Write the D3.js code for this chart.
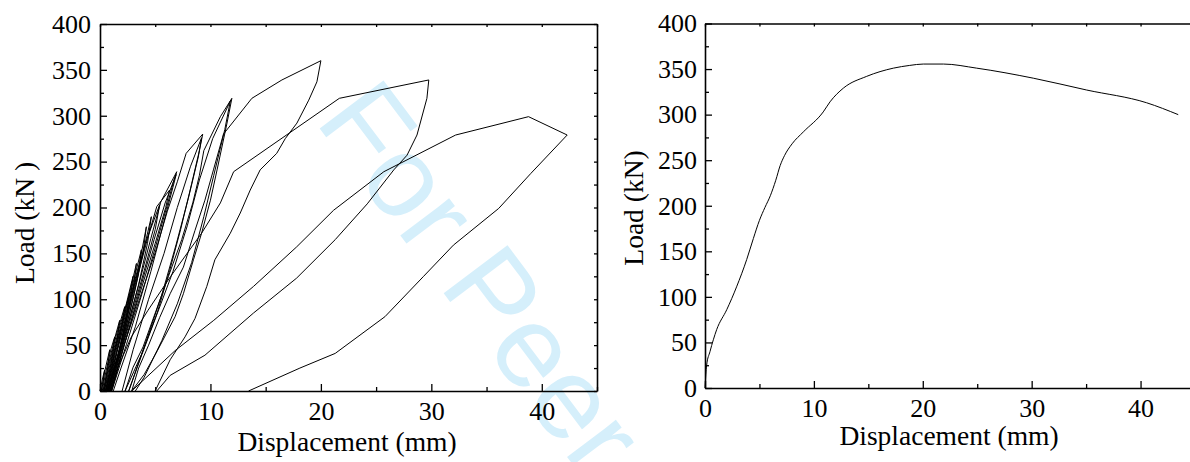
<!DOCTYPE html>
<html>
<head>
<meta charset="utf-8">
<script src="https://cdn.jsdelivr.net/npm/d3@7"></script>
<style>
    body { margin: 0; background: #fff; }
    svg { display: block; }
    .frame path.domain { stroke: #000; stroke-width: 1.6; }
    .frame line { stroke: #000; stroke-width: 1.3; }
    .curve { fill: none; stroke: #000; stroke-width: 1; stroke-linejoin: round; }
</style>
</head>
<body>
<svg width="1190" height="462"></svg>
<script>
'use strict';

// tick labels
var xTickValues = [0, 10, 20, 30, 40];
var xMinorTicks = [5, 15, 25, 35, 45];
var yTickValues = [0, 50, 100, 150, 200, 250, 300, 350, 400];
var yMinorTicks = [25, 75, 125, 175, 225, 275, 325, 375];

var xTitle = 'Displacement (mm)';
var yTitleCyclic = 'Load (kN )';
var yTitleMonotonic = 'Load (kN)';
var watermark = 'For Peer Review';

// cyclic test, [displacement mm, load kN] - loading branch then unloading branch
var cycle01 = [[0, 0], [0.2, 12], [0.42, 23], [0.3, 10], [0.12, 0]];
var cycle02 = [[0.1, 0], [0.4, 20], [0.88, 45], [0.7, 26], [0.45, 9], [0.25, 0]];
var cycle03 = [[0.2, 0], [0.55, 22], [1.0, 46], [1.33, 59], [1.15, 40], [0.8, 18], [0.35, 0]];
var cycle04 = [[0.3, 0], [0.75, 28], [1.3, 56], [1.78, 77], [1.55, 56], [1.1, 27], [0.45, 0]];
var cycle05 = [[0.35, 0], [0.85, 30], [1.5, 62], [2.24, 92], [2.0, 71], [1.4, 36], [0.5, 0]];
var cycle06 = [[0.4, 0], [0.95, 32], [1.8, 71], [2.69, 106], [2.4, 82], [1.7, 42], [0.6, 0]];
var cycle07 = [[0.5, 0], [1.1, 36], [2.0, 76], [2.99, 125], [2.7, 96], [2.0, 56], [1.2, 20], [0.65, 0]];
var cycle08 = [[0.55, 0], [1.2, 38], [2.2, 82], [3.3, 139], [3.0, 111], [2.3, 70], [1.4, 28], [0.7, 0]];
var cycle09 = [[0.6, 0], [1.3, 41], [2.4, 90], [3.75, 154], [3.45, 126], [2.7, 86], [1.6, 36], [0.75, 0]];
var cycle10 = [[0.65, 0], [1.4, 42], [2.6, 96], [3.6, 141], [4.2, 179], [3.9, 151], [3.1, 106], [2.0, 51], [0.8, 0]];
var cycle11 = [[0.7, 0], [1.5, 43], [2.8, 101], [3.9, 151], [4.65, 190], [4.3, 161], [3.5, 116], [2.3, 61], [0.85, 0]];
var cycle12 = [[0.75, 0], [1.6, 45], [3.0, 111], [4.1, 161], [5.4, 203], [5.0, 176], [4.0, 131], [2.7, 76], [0.9, 0]];
var cycle13 = [[0.8, 0], [1.75, 46], [3.2, 116], [4.3, 166], [5.14, 201], [6.3, 219], [5.95, 200], [5.0, 161], [3.6, 106], [2.2, 51], [0.95, 0]];
var cycle14 = [[0.9, 0], [1.9, 46], [3.4, 111], [4.6, 166], [5.5, 206], [6.95, 239], [6.65, 228], [6.05, 201], [5.0, 156], [3.8, 106], [2.4, 51], [1.06, 0]];
var cycle15 = [[1.06, 0], [2.2, 50], [3.6, 110], [4.9, 165], [5.9, 205], [6.9, 236], [6.6, 222], [5.8, 185], [4.6, 130], [3.2, 70], [1.9, 25], [1.2, 0]];
var cycle16 = [[1.0, 0], [2.2, 51], [3.6, 101], [5.0, 151], [6.1, 196], [7.0, 228], [7.8, 259], [9.3, 280],
    [9.0, 262], [8.3, 226], [7.3, 176], [6.3, 131], [5.2, 86], [3.8, 41], [2.27, 0]];
var cycle17 = [[2.0, 0], [3.0, 45], [4.4, 100], [5.8, 150], [7.0, 200], [8.2, 245], [9.2, 276],
    [8.9, 255], [8.0, 210], [6.9, 160], [5.6, 105], [4.2, 55], [2.6, 0]];
var cycle18 = [[2.27, 0], [3.0, 26], [3.9, 48], [5.0, 85], [6.2, 125], [7.4, 165], [8.4, 205], [9.0, 235], [9.4, 262], [10.9, 299], [11.94, 319],
    [11.5, 292], [10.6, 241], [10.0, 208], [9.2, 172], [8.46, 143], [7.55, 106], [6.8, 81], [5.2, 44], [4.0, 18], [2.87, 0]];
var cycle19 = [[2.6, 0], [3.8, 40], [5.2, 85], [6.6, 130], [7.9, 180], [9.0, 230], [10.2, 275], [11.8, 316],
    [11.3, 285], [10.3, 235], [9.4, 190], [8.3, 140], [7.0, 95], [5.6, 55], [4.0, 15], [3.2, 0]];
var cycle20 = [[2.87, 0], [3.5, 25], [4.4, 50], [5.4, 80], [6.35, 106], [7.55, 135], [8.6, 175], [9.5, 208], [10.27, 241], [11.18, 280],
    [13.75, 319], [16.47, 339], [20.0, 360],
    [19.64, 337], [18.9, 317], [17.83, 292], [16.77, 275], [16.0, 259], [14.5, 241], [13.6, 219], [12.7, 194], [11.8, 172],
    [10.4, 143], [9.67, 114], [8.6, 79], [7.7, 59], [6.35, 34], [4.99, 0]];
var cycle21 = [[1.0, 0], [1.63, 26], [2.84, 59], [4.35, 88], [6.4, 125], [9.2, 172], [10.9, 205], [12.1, 239], [21.67, 319], [29.77, 339],
    [29.6, 319], [28.7, 279], [27.8, 257], [26.6, 241], [24.2, 204], [21.3, 165], [17.8, 123], [13.9, 85], [9.5, 39], [6.35, 17], [5.14, 0]];
var cycle22 = [[2.87, 0], [6.8, 44], [10.3, 77], [13.9, 114], [17.8, 157], [21.15, 197], [25.7, 239], [32.2, 279], [38.8, 299], [42.3, 279],
    [39.0, 237], [36.1, 199], [32.0, 159], [29.3, 125], [25.8, 81], [21.3, 41], [18.1, 25], [13.45, 0]];

var cycles = [cycle01, cycle02, cycle03, cycle04, cycle05, cycle06, cycle07, cycle08, cycle09, cycle10, cycle11,
    cycle12, cycle13, cycle14, cycle15, cycle16, cycle17, cycle18, cycle19, cycle20, cycle21, cycle22];

// monotonic test
var monoDisp = [0, 0.15, 0.46, 1.07, 2.0, 2.9, 3.83, 4.44, 5.0, 5.5, 6.0, 6.5, 6.9, 7.3, 8.0, 9.03, 10.86, 11.48, 12.7,
    14.85, 17.3, 18.8, 20.05, 21.9, 24.95, 30.15, 35.05, 40.56, 43.46];
var monoLoad = [0, 25, 40, 64, 86, 111, 141, 164, 184, 198, 211, 228, 244, 255, 268, 281, 303, 314, 329,
    342, 351, 354, 355.5, 355.5, 351, 340, 327, 313, 300];

var svg = d3.select('svg');
var serif = "'Liberation Serif', 'Times New Roman', serif";

svg.append('text')
    .attr('transform', 'translate(314,121) rotate(53)')
    .attr('font-family', "'Liberation Sans', Arial, sans-serif")
    .attr('font-size', 116)
    .attr('fill', '#d5effb')
    .text(watermark);

var createPanel = function(box) {

    var x = d3.scaleLinear().domain([0, 45]).range([box.left, box.right]);
    var y = d3.scaleLinear().domain([0, 400]).range([box.bottom, box.top]);

    var g = svg.append('g').attr('class', 'frame');

    var styleAxis = function(sel) {
        sel.attr('font-family', serif).attr('font-size', 26);
        sel.selectAll('text').attr('fill', '#000');
    };

    // bottom
    g.append('g')
        .attr('transform', 'translate(0,' + box.bottom + ')')
        .call(d3.axisBottom(x).tickValues(xTickValues).tickSize(-7).tickSizeOuter(0).tickPadding(box.xPad))
        .call(styleAxis);
    g.append('g')
        .attr('transform', 'translate(0,' + box.bottom + ')')
        .call(d3.axisBottom(x).tickValues(xMinorTicks).tickSize(-4).tickFormat(''))
        .call(function(s) { s.select('.domain').remove(); });

    // left
    g.append('g')
        .attr('transform', 'translate(' + box.left + ',0)')
        .call(d3.axisLeft(y).tickValues(yTickValues).tickSize(-7).tickSizeOuter(0).tickPadding(box.yPad))
        .call(styleAxis);
    g.append('g')
        .attr('transform', 'translate(' + box.left + ',0)')
        .call(d3.axisLeft(y).tickValues(yMinorTicks).tickSize(-4).tickFormat(''))
        .call(function(s) { s.select('.domain').remove(); });

    // top and right, small ticks only
    g.append('g')
        .attr('transform', 'translate(0,' + box.top + ')')
        .call(d3.axisTop(x).tickValues(xTickValues.concat(xMinorTicks)).tickSize(-3).tickSizeOuter(0).tickFormat(''));
    g.append('g')
        .attr('transform', 'translate(' + box.right + ',0)')
        .call(d3.axisRight(y).tickValues(yTickValues.concat(yMinorTicks)).tickSize(-3).tickSizeOuter(0).tickFormat(''));

    svg.append('text')
        .attr('font-family', serif)
        .attr('font-size', 27.5)
        .attr('text-anchor', 'middle')
        .attr('x', box.xTitleX)
        .attr('y', box.xTitleY)
        .text(xTitle);

    svg.append('text')
        .attr('font-family', serif)
        .attr('font-size', 27.5)
        .attr('text-anchor', 'middle')
        .attr('transform', 'translate(' + box.yTitleX + ',' + box.yTitleY + ') rotate(-90)')
        .text(box.yTitle);

    return { x: x, y: y };
};

var left = createPanel({
    left: 100, right: 597, top: 24, bottom: 391,
    xPad: 10.5, yPad: 9,
    xTitleX: 347, xTitleY: 451,
    yTitleX: 34, yTitleY: 223, yTitle: yTitleCyclic
});

var right = createPanel({
    left: 705, right: 1195, top: 23.5, bottom: 388,
    xPad: 11, yPad: 8,
    xTitleX: 949, xTitleY: 445,
    yTitleX: 643, yTitleY: 208, yTitle: yTitleMonotonic
});

var cycleLine = d3.line()
    .x(function(d) { return left.x(d[0]); })
    .y(function(d) { return left.y(d[1]); });

svg.append('g').selectAll('path')
    .data(cycles)
    .enter().append('path')
    .attr('class', 'curve')
    .attr('d', cycleLine);

var monoLine = d3.line().curve(d3.curveMonotoneX)
    .x(function(d, i) { return right.x(monoDisp[i]); })
    .y(function(d, i) { return right.y(monoLoad[i]); });

svg.append('path')
    .attr('class', 'curve')
    .attr('d', monoLine(monoDisp));
</script>
</body>
</html>
